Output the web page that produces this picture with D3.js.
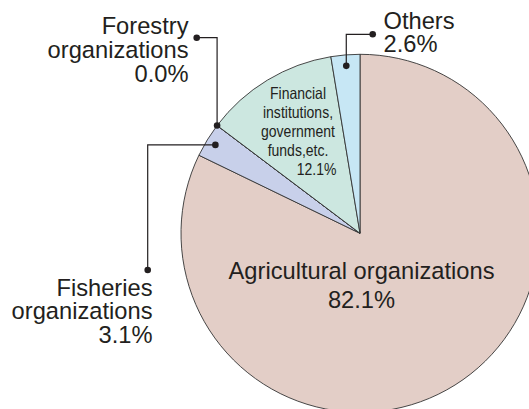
<!DOCTYPE html>
<html><head><meta charset="utf-8">
<script src="https://cdn.jsdelivr.net/npm/d3@7"></script>
<style>
html,body{margin:0;padding:0;background:#fff;}
svg{display:block;}
text{font-family:"Liberation Sans",Arial,Helvetica,sans-serif;fill:#231f20;}
</style></head>
<body>
<svg id="chart" width="529" height="409"></svg>
<script>
// Data
const categories = ["Agricultural organizations","Fisheries organizations","Forestry organizations","Financial institutions, government funds,etc.","Others"];
const values = [82.1, 3.1, 0.0, 12.1, 2.6];
const valueLabels = ["82.1%","3.1%","0.0%","12.1%","2.6%"];
const colors = ["#e3cec7","#c8d0ea","#cfe5de","#cce7e0","#c7e7f5"];

const W = 529, H = 409;
const cx = 360, cy = 233.3, R = 179;
const svg = d3.select("#chart");
const g = svg.append("g").attr("transform", `translate(${cx},${cy})`);

const pie = d3.pie().sort(null).value(d => d.v).startAngle(0).endAngle(2*Math.PI);
const data = categories.map((c,i)=>({c, v: values[i], lab: valueLabels[i], col: colors[i], i}));
const arcs = pie(data);
const arc = d3.arc().innerRadius(0).outerRadius(R);

g.selectAll("path.slice").data(arcs).enter().append("path")
  .attr("class","slice")
  .attr("d", arc)
  .attr("fill", d => d.data.col)
  .attr("stroke", "#333")
  .attr("stroke-width", 0.9)
  .attr("stroke-linejoin","round");

const pt = (a, r) => [cx + r*Math.sin(a), cy - r*Math.cos(a)];
const mid = d => (d.startAngle + d.endAngle)/2;

const lead = svg.append("g").attr("stroke","#231f20").attr("stroke-width",1.2).attr("fill","none");
const dots = svg.append("g").attr("fill","#231f20");
function dot(p){ dots.append("circle").attr("cx",p[0]).attr("cy",p[1]).attr("r",3.3); }

const FS = 23.7, LH = 23.8;
function multi(x, y, lines, anchor, fs, lh){
  const t = svg.append("text").attr("text-anchor", anchor).style("font-size", fs+"px");
  lines.forEach((l,k)=> t.append("tspan").attr("x", x).attr("y", y + k*lh).text(l));
  return t;
}

// Fisheries
{
  const a = arcs[1]; const p = pt(mid(a), R - 9.5);
  const ex = 147.7, ey = 270;
  lead.append("polyline").attr("points", `${p[0]},${p[1]} ${ex},${p[1]} ${ex},${ey}`);
  dot(p); dot([ex,ey]);
  multi(152.5, 295.5, ["Fisheries","organizations", a.data.lab], "end", FS, LH);
}
// Forestry
{
  const a = arcs[2]; const p = pt(a.startAngle, R);
  const lx = 196.7, ly = 37.7;
  lead.append("polyline").attr("points", `${p[0]},${p[1]} ${p[0]},${ly} ${lx},${ly}`);
  dot(p); dot([lx,ly]);
  multi(188.5, 34.3, ["Forestry","organizations", a.data.lab], "end", FS, LH);
}
// Others
{
  const a = arcs[4]; const p = pt(mid(a), R - 11);
  const lx = 372.7, ly = 34.3;
  lead.append("polyline").attr("points", `${p[0]},${p[1]} ${p[0]},${ly} ${lx},${ly}`);
  dot(p); dot([lx,ly]);
  multi(383.5, 28.5, ["Others", a.data.lab], "start", FS, LH);
}
// Financial
{
  const a = arcs[3];
  const gg = svg.append("g").attr("transform","translate(298,0) scale(0.86,1)");
  const fs = 16.3, lh = 19.1;
  const t = gg.append("text").attr("text-anchor","middle").style("font-size", fs+"px");
  ["Financial","institutions,","government","funds,etc."].forEach((l,k)=>
    t.append("tspan").attr("x",0).attr("y", 98.8 + k*lh).text(l));
  gg.append("text").attr("text-anchor","end").style("font-size", fs+"px")
    .attr("x", (336.5-298)/0.86).attr("y", 98.8 + 4*lh).text(a.data.lab);
}
// Agricultural
{
  const a = arcs[0];
  multi(361.5, 279.3, ["Agricultural organizations", a.data.lab], "middle", FS, 29);
}
</script>
</body></html>
